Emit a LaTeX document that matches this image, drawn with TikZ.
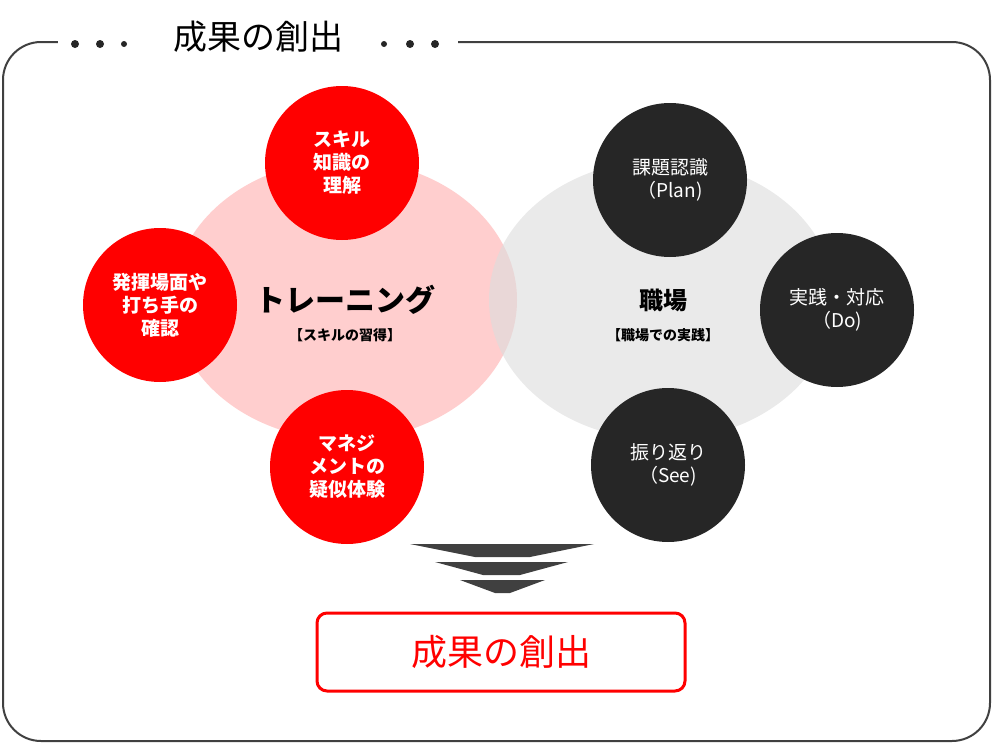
\documentclass[tikz,border=0pt]{standalone}
\usepackage{fontspec}
\setmainfont{Noto Sans CJK JP}
\definecolor{cred}{RGB}{255,0,0}
\definecolor{cpink}{RGB}{255,190,190}
\definecolor{cgrey}{RGB}{220,220,220}
\definecolor{cdark}{RGB}{38,38,38}
\definecolor{cchev}{RGB}{64,64,64}
\begin{document}
\begin{tikzpicture}[x=1pt,y=-1pt,
 red/.style={circle,fill=cred,minimum size=154pt,inner sep=0pt,text=white,font=\fontsize{19}{23}\selectfont\bfseries,align=center},
 dark/.style={circle,fill=cdark,minimum size=154pt,inner sep=0pt,text=white,font=\fontsize{19}{23}\selectfont,align=center},
 chev/.style={fill=cchev},
 dot/.style={circle,fill=black!85,inner sep=0pt}]
\useasboundingbox (0,0) rectangle (994,744);
\draw[line width=2pt,black!75,rounded corners=38pt] (3,42) rectangle (990,741);
\node[fill=white,minimum width=400pt,minimum height=20pt] (tbg) at (258,40) {};
\node[font=\fontsize{34}{36}\selectfont] (title) at (258,37) {成果の創出};
\foreach \x/\s [count=\i] in {75/8,100/8,124/6,384/6,410/8,435/8} \node[dot,minimum size=\s pt] (d\i) at (\x,44) {};
\fill[cpink,opacity=0.75] (345,300) ellipse (172pt and 140pt);
\fill[cgrey,opacity=0.6] (662,300) ellipse (173pt and 140pt);
\node[font=\fontsize{30}{32}\selectfont\bfseries] (tr) at (345,300) {トレーニング};
\node[font=\fontsize{14}{16}\selectfont\bfseries] (trs) at (345,335) {【スキルの習得】};
\node[font=\fontsize{24}{26}\selectfont\bfseries] (sh) at (663,300) {職場};
\node[font=\fontsize{14}{16}\selectfont\bfseries] (shs) at (663,335) {【職場での実践】};
\node[red] (r1) at (342,163) {スキル\\知識の\\理解};
\node[red] (r2) at (160,305) {発揮場面や\\打ち手の\\確認};
\node[red] (r3) at (347,467) {マネジ\\メントの\\疑似体験};
\node[dark] (k1) at (670,180) {課題認識\\（Plan)};
\node[dark] (k2) at (837,310) {実践・対応\\（Do)};
\node[dark] (k3) at (668,465) {振り返り\\（See)};
\fill[chev] (410,544) -- (594,544) -- (530,557) -- (475,557) -- cycle;
\fill[chev] (435,562) -- (568,562) -- (520,575) -- (483,575) -- cycle;
\fill[chev] (460,580) -- (545,580) -- (510,593) -- (495,593) -- cycle;
\node[draw=cred,line width=3pt,rounded corners=10pt,minimum width=368pt,minimum height=78pt,text=cred,font=\fontsize{36}{38}\selectfont] (res) at (501,652) {成果の創出};
\end{tikzpicture}
\end{document}
